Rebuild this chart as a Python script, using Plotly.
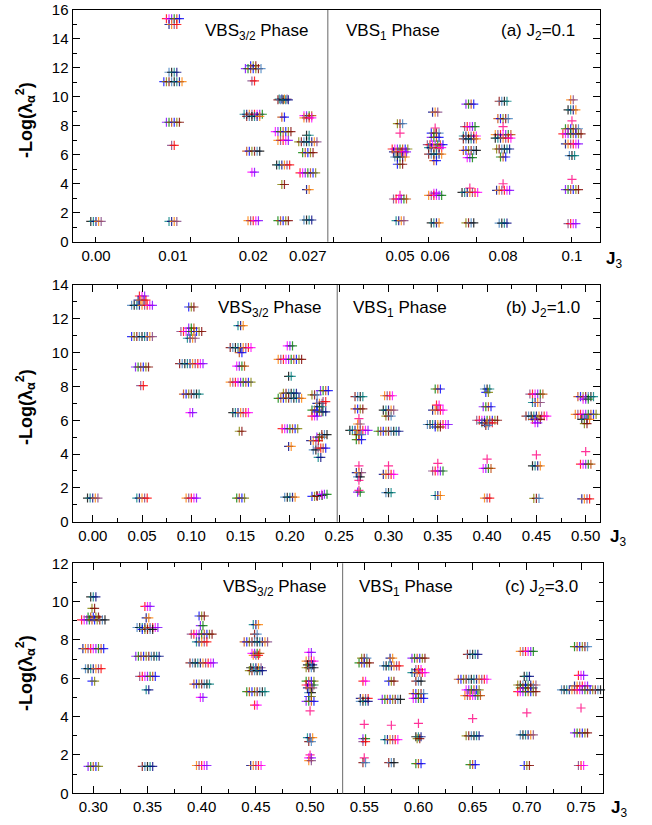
import plotly.graph_objects as go

# ---------------- DATA ----------------
# Panel (a) J2 = 0.1  (non-uniform J3 scale in the original figure)
j3_a = [0.00, 0.01, 0.02, 0.025, 0.027, 0.05, 0.06, 0.07, 0.08, 0.1]
xpos_a = [0.0, 0.0162, 0.0331, 0.0394, 0.0446, 0.0640, 0.0714, 0.0787, 0.0857, 0.1002]
levels_a = [
    [1.4],
    [15.4, 15.0, 11.7, 11.05, 8.25, 6.65, 1.4],
    [12.15, 11.95, 11.1, 8.8, 8.65, 6.25, 4.8, 1.45],
    [9.85, 9.8, 8.6, 7.6, 7.0, 5.3, 3.95, 1.45],
    [8.7, 8.55, 7.35, 6.9, 6.15, 4.75, 3.6, 1.5],
    [8.15, 7.5, 6.4, 6.2, 5.85, 5.35, 3.2, 2.95, 1.45],
    [8.95, 7.85, 7.5, 7.2, 6.7, 6.5, 6.05, 5.6, 3.35, 3.2, 1.3],
    [9.5, 7.95, 7.3, 7.1, 6.3, 5.8, 3.7, 3.4, 1.3],
    [9.7, 8.5, 7.95, 7.4, 7.15, 6.4, 5.85, 4.0, 3.55, 1.28],
    [9.8, 9.1, 8.35, 7.8, 7.45, 6.75, 5.95, 4.3, 3.6, 1.25],
]
counts_a = [
    [5],
    [6, 4, 4, 8, 6, 2, 4],
    [3, 7, 2, 8, 6, 6, 2, 5],
    [4, 5, 2, 7, 5, 6, 2, 5],
    [4, 4, 2, 8, 5, 7, 2, 4],
    [3, 1, 7, 6, 5, 3, 1, 6, 4],
    [3, 1, 4, 4, 7, 6, 6, 2, 2, 6, 4],
    [4, 5, 6, 6, 6, 3, 1, 7, 4],
    [4, 5, 1, 7, 7, 6, 3, 1, 6, 4],
    [2, 4, 1, 6, 8, 6, 3, 1, 6, 4],
]
ticklabels_a = ["0.00", "0.01", "0.02", "0.027", "0.05", "0.06", "0.08", "0.1"]
tickj3_a = [0.00, 0.01, 0.02, 0.027, 0.05, 0.06, 0.08, 0.1]
boundary_a = 0.0488

# Panel (b) J2 = 1.0
j3_b = [0.00, 0.05, 0.10, 0.15, 0.20, 0.225, 0.23, 0.235, 0.27, 0.30, 0.35, 0.40, 0.45, 0.50]
levels_b = [
    [1.4],
    [13.35, 13.1, 12.8, 10.95, 9.15, 8.05, 1.4],
    [12.7, 11.45, 11.25, 10.85, 9.35, 7.55, 6.45, 1.4],
    [11.6, 10.3, 10.0, 9.2, 8.25, 6.45, 5.35, 1.4],
    [10.4, 9.6, 8.6, 7.6, 7.3, 5.5, 4.45, 1.45],
    [7.5, 6.6, 6.25, 4.8, 4.25, 1.5],
    [7.0, 6.8, 6.5, 5.0, 4.35, 3.8, 1.55],
    [7.75, 7.1, 6.5, 5.15, 4.35, 1.62],
    [7.4, 6.67, 6.1, 5.78, 5.4, 5.15, 4.85, 3.3, 2.9, 2.65, 2.45, 1.75, 1.85],
    [7.45, 6.6, 6.25, 5.35, 3.3, 2.8, 1.72],
    [7.85, 6.9, 6.6, 5.75, 5.6, 3.45, 3.0, 1.55],
    [7.85, 7.65, 6.8, 6.0, 5.85, 5.7, 3.7, 3.15, 1.4],
    [7.55, 7.05, 6.25, 6.05, 5.85, 3.95, 3.3, 1.38],
    [7.4, 7.25, 6.35, 6.05, 5.8, 4.15, 3.4, 1.35],
]
counts_b = [
    [5],
    [3, 4, 9, 9, 6, 2, 5],
    [3, 3, 9, 4, 10, 7, 2, 5],
    [3, 9, 2, 4, 9, 7, 2, 4],
    [3, 10, 2, 6, 10, 7, 2, 5],
    [3, 3, 3, 4, 2, 3],
    [3, 3, 3, 3, 2, 2, 3],
    [4, 2, 2, 3, 2, 3],
    [4, 4, 1, 2, 8, 3, 3, 1, 3, 2, 1, 2, 1],
    [4, 5, 3, 9, 1, 5, 3],
    [3, 2, 5, 9, 3, 1, 5, 3],
    [3, 2, 4, 9, 5, 2, 1, 4, 3],
    [6, 4, 9, 4, 2, 1, 4, 3],
    [7, 3, 9, 4, 2, 1, 5, 4],
]
boundary_b = 0.248

# Panel (c) J2 = 3.0
j3_c = [0.30, 0.35, 0.40, 0.45, 0.50, 0.55, 0.575, 0.60, 0.65, 0.70, 0.75]
levels_c = [
    [10.25, 9.65, 9.2, 9.05, 7.55, 6.5, 5.85, 1.4],
    [9.75, 9.15, 8.65, 8.55, 7.15, 6.1, 5.4, 1.4],
    [9.25, 8.75, 8.3, 7.9, 6.8, 5.7, 5.0, 1.45],
    [8.8, 8.3, 7.9, 7.3, 7.2, 6.55, 6.4, 5.3, 4.6, 1.45],
    [7.35, 6.9, 6.7, 6.55, 5.85, 5.65, 5.5, 5.25, 5.05, 4.8, 4.3, 2.9, 2.7, 2.0, 1.85, 1.7],
    [7.05, 6.8, 5.85, 4.95, 4.8, 3.6, 2.85, 2.7, 1.85, 1.6],
    [7.05, 6.65, 5.85, 4.9, 3.55, 2.8, 1.6],
    [7.05, 6.45, 6.3, 5.85, 5.2, 4.95, 3.65, 2.95, 2.85, 1.55],
    [7.25, 5.95, 5.4, 5.1, 3.9, 3.0, 1.5],
    [7.4, 6.1, 5.65, 5.5, 5.3, 4.2, 3.05, 1.45],
    [7.65, 6.15, 5.6, 5.4, 4.45, 3.15, 1.45],
]
counts_c = [
    [3, 2, 5, 10, 9, 7, 2, 5],
    [3, 2, 9, 5, 10, 7, 2, 5],
    [3, 2, 9, 5, 10, 7, 2, 5],
    [3, 2, 10, 4, 3, 5, 6, 8, 2, 5],
    [2, 4, 3, 4, 4, 4, 3, 2, 2, 4, 1, 3, 2, 1, 2, 2],
    [3, 5, 2, 4, 4, 1, 2, 2, 1, 2],
    [2, 7, 3, 8, 1, 6, 3],
    [6, 3, 6, 3, 5, 5, 1, 3, 2, 3],
    [5, 12, 6, 7, 1, 6, 3],
    [6, 3, 8, 6, 8, 1, 6, 3],
    [6, 3, 6, 16, 1, 6, 3],
]
boundary_c = 0.53

# ---------------- STYLE ----------------
W, H = 652, 825
FONT = "Liberation Sans, Arial, sans-serif"
PALETTE = ["#000000", "#FF0000", "#0000FF", "#008080", "#FF00FF", "#808000",
           "#000080", "#8000FF", "#800000", "#FF8000", "#008000", "#4080C0",
           "#804080", "#C04000"]
SINGLE = "#FF0080"
SPACING_PX = 2.6

# panel frames in page pixels: (left, right, top, bottom)
frames = {
    "a": (72.7, 600.0, 10.0, 241.7),
    "b": (72.7, 600.0, 285.0, 521.7),
    "c": (72.7, 602.7, 563.3, 793.3),
}
xranges = {"a": [-0.0049, 0.1061], "b": [-0.0203, 0.5145], "c": [0.281, 0.770]}
yranges = {"a": [0, 16], "b": [0, 14], "c": [0, 12]}


def build(xs, levels, counts, dx):
    X, Y, C = [], [], []
    for gi, (x, lv, ct) in enumerate(zip(xs, levels, counts)):
        for li, (y, n) in enumerate(zip(lv, ct)):
            for i in range(n):
                X.append(x + (i - (n - 1) / 2) * dx)
                Y.append(y)
                C.append(SINGLE if n == 1 else PALETTE[(i * 3 + li * 5 + gi) % len(PALETTE)])
    return X, Y, C


def dx_for(p):
    l, r, _, _ = frames[p]
    return SPACING_PX * (xranges[p][1] - xranges[p][0]) / (r - l)


fig = go.Figure()
panels = [("a", xpos_a, levels_a, counts_a, "", ""),
          ("b", j3_b, levels_b, counts_b, "2", "2"),
          ("c", j3_c, levels_c, counts_c, "3", "3")]
for p, xs, lv, ct, xs_id, ys_id in panels:
    X, Y, C = build(xs, lv, ct, dx_for(p))
    fig.add_trace(go.Scatter(
        x=X, y=Y, mode="markers", xaxis="x" + xs_id, yaxis="y" + ys_id,
        marker=dict(symbol="cross-thin", size=6.5, opacity=0.8,
                    line=dict(color=C, width=1.2)),
        showlegend=False, hoverinfo="x+y", cliponaxis=False))


def fx(px):
    return px / W


def fy(py):
    return 1 - py / H


def dom_x(p):
    l, r, _, _ = frames[p]
    return [fx(l), fx(r)]


def dom_y(p):
    _, _, t, b = frames[p]
    return [fy(b), fy(t)]


common = dict(showline=True, linecolor="black", linewidth=1.3, mirror="ticks",
              showgrid=False, zeroline=False, ticks="inside", tickcolor="black",
              tickwidth=1.2, automargin=False, ticklabeloverflow="allow",
              tickfont=dict(family=FONT, size=15, color="black"))
minor_y = dict(ticks="inside", dtick=1, tick0=0, ticklen=4, tickcolor="black", tickwidth=1.2)

tickpos_a = [xpos_a[j3_a.index(v)] for v in tickj3_a]

layout = dict(
    template="none",
    width=W, height=H, autosize=False,
    margin=dict(l=0, r=0, t=0, b=0, pad=0),
    paper_bgcolor="white", plot_bgcolor="white",
    font=dict(family=FONT, color="black"),
    xaxis=dict(domain=dom_x("a"), range=xranges["a"], anchor="y",
               tickmode="array", tickvals=tickpos_a, ticktext=ticklabels_a,
               **{**common, "ticks": "", "mirror": True},
               minor=dict(ticks="inside", tickmode="linear", tick0=0, dtick=0.01,
                          ticklen=5, tickcolor="black", tickwidth=1.2)),
    yaxis=dict(domain=dom_y("a"), range=yranges["a"], anchor="x",
               tickmode="linear", tick0=0, dtick=2, ticklen=7, **common, minor=minor_y),
    xaxis2=dict(domain=dom_x("b"), range=xranges["b"], anchor="y2",
                tickmode="linear", tick0=0, dtick=0.05, tickformat=".2f", ticklen=7, **common,
                minor=dict(ticks="inside", dtick=0.025, tick0=0, ticklen=4, tickcolor="black", tickwidth=1.2)),
    yaxis2=dict(domain=dom_y("b"), range=yranges["b"], anchor="x2",
                tickmode="linear", tick0=0, dtick=2, ticklen=7, **common, minor=minor_y),
    xaxis3=dict(domain=dom_x("c"), range=xranges["c"], anchor="y3",
                tickmode="linear", tick0=0.30, dtick=0.05, tickformat=".2f", ticklen=7, **common,
                minor=dict(ticks="inside", dtick=0.025, tick0=0.30, ticklen=4, tickcolor="black", tickwidth=1.2)),
    yaxis3=dict(domain=dom_y("c"), range=yranges["c"], anchor="x3",
                tickmode="linear", tick0=0, dtick=2, ticklen=7, **common, minor=minor_y),
)
fig.update_layout(**layout)

# phase boundaries
for xb, xr, yr in [(boundary_a, "x", "y"), (boundary_b, "x2", "y2"), (boundary_c, "x3", "y3")]:
    fig.add_shape(type="line", xref=xr, yref=yr + " domain", x0=xb, x1=xb, y0=0, y1=1,
                  line=dict(color="#808080", width=1.2))

ann = []


def txt(text, px, py, size=17, xanchor="left", angle=0):
    ann.append(dict(text=text, x=fx(px), y=fy(py), xref="paper", yref="paper",
                    xanchor=xanchor, yanchor="middle", showarrow=False, textangle=angle,
                    font=dict(family=FONT, size=size, color="black")))


# phase labels
txt("VBS<sub>3/2</sub> Phase", 203, 32)
txt("VBS<sub>1</sub> Phase", 344, 32)
txt("(a) J<sub>2</sub>=0.1", 499, 32)
txt("VBS<sub>3/2</sub> Phase", 216, 309)
txt("VBS<sub>1</sub> Phase", 351, 309)
txt("(b) J<sub>2</sub>=1.0", 504, 309)
txt("VBS<sub>3/2</sub> Phase", 221, 588)
txt("VBS<sub>1</sub> Phase", 357, 588)
txt("(c) J<sub>2</sub>=3.0", 503, 588)

# x-axis titles
txt("<b>J</b><sub>3</sub>", 604, 260, size=17)
txt("<b>J</b><sub>3</sub>", 608, 538, size=17)
txt("<b>J</b><sub>3</sub>", 609, 809, size=17)

# y-axis titles
for yc in (120, 407, 673):
    txt("<b>-Log(λ<sub>α</sub><sup>2</sup>)</b>", 25, yc, size=18, xanchor="center", angle=-90)

fig.update_layout(annotations=ann)
fig.write_html("out.html", config={"displayModeBar": False},
               post_script="document.body.style.margin='0';document.body.style.overflow='hidden';")
